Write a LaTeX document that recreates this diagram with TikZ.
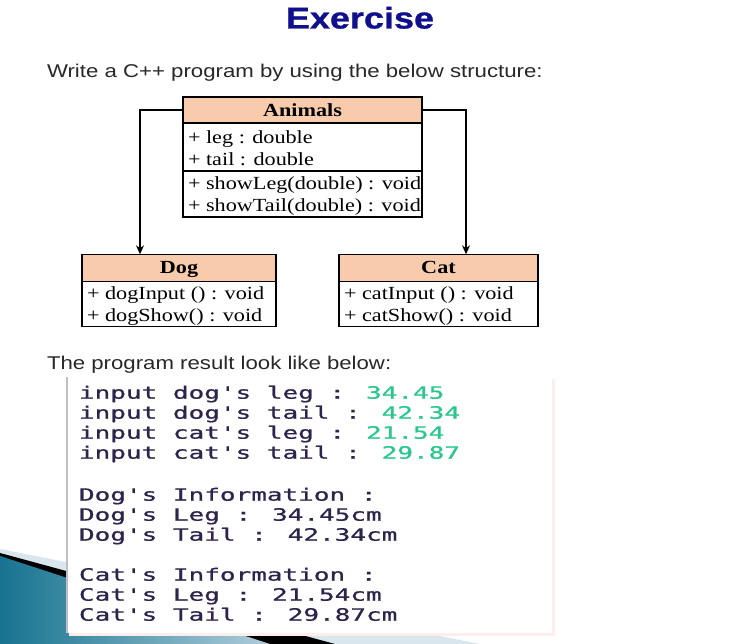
\documentclass[tikz,border=0pt]{standalone}
\usepackage{fontspec}
\setmainfont{Liberation Serif}
\newfontfamily\slidefont{Liberation Sans}
\newfontfamily\titlefont[FakeBold=0.8]{Liberation Sans Bold}
\newfontfamily\consolefont[FakeBold=0.7]{DejaVu Sans Mono}
\usepackage{graphicx}
\usetikzlibrary{arrows.meta}

\definecolor{titleblue}{RGB}{16,16,140}
\definecolor{umlheadfill}{RGB}{248,203,173}
\definecolor{slidetext}{RGB}{40,40,40}
\definecolor{contxt}{RGB}{45,35,75}
\definecolor{conval}{RGB}{40,200,140}
\definecolor{tealdark}{RGB}{22,115,145}
\definecolor{teallight}{RGB}{175,205,218}
\definecolor{swoosh}{RGB}{218,230,238}
\definecolor{conshadow}{RGB}{252,238,234}
\definecolor{conedge}{RGB}{190,190,198}

% wide-set text, as on the slide
\newcommand\hstretch[1]{\scalebox{1.2}[1]{#1}}
\newcommand\monostretch[1]{\scalebox{1.53}[1]{#1}}
\newcommand\q{\textquotesingle}

\begin{document}
\begin{tikzpicture}[x=1pt,y=-1pt,
  every node/.style={inner sep=0pt, outer sep=0pt},
  umlpart/.style={draw=black, line width=1.3pt, anchor=north, minimum height=#1},
  umlhead/.style={umlpart=#1, fill=umlheadfill},
  umlrow/.style={anchor=base west, font=\fontsize{18.5}{20}\selectfont},
  umltitle/.style={anchor=base, font=\fontsize{18.5}{20}\selectfont\bfseries},
  inherit/.style={-{Stealth[length=9pt,width=8pt]}, line width=1.3pt},
  slideline/.style={anchor=base west, font=\fontsize{18.5}{20}\slidefont, text=slidetext},
  conline/.style={anchor=base west, font=\fontsize{17}{20}\consolefont, text=contxt},
]
\useasboundingbox (0,0) rectangle (741,644);
\fill[white] (0,0) rectangle (741,644);

% slide decoration, bottom left
\fill[swoosh] (0,549) -- (480,644) -- (0,644) -- cycle;
\fill[black] (0,553) -- (335,644) -- (0,644) -- cycle;
\shade[left color=tealdark, right color=teallight] (0,556) -- (270,644) -- (0,644) -- cycle;

% heading and captions
\node[anchor=base, font=\fontsize{30}{30}\titlefont, text=titleblue] (title) at (360,28.5) {\hstretch{Exercise}};
\node[slideline] (intro) at (47,77.7) {\hstretch{Write a C++ program by using the below structure:}};
\node[slideline] (result) at (47,369.3) {\hstretch{The program result look like below:}};

% class Animals
\node[umlhead=26pt, minimum width=239pt] (animalsHead) at (302.5,97) {};
\node[umlpart=48pt, minimum width=239pt] (animalsAttr) at (animalsHead.south) {};
\node[umlpart=46pt, minimum width=239pt] (animalsOps) at (animalsAttr.south) {};
\node[umltitle] (animalsName) at (302.5,116.7) {\hstretch{Animals}};
\node[umlrow] (legAttr) at (188,143.3) {\hstretch{+ leg : double}};
\node[umlrow] (tailAttr) at (188,165.3) {\hstretch{+ tail : double}};
\node[umlrow] (showLegOp) at (188,190) {\hstretch{+ showLeg(double) : void}};
\node[umlrow] (showTailOp) at (188,212) {\hstretch{+ showTail(double) : void}};

% class Dog
\node[umlhead=27pt, minimum width=194pt] (dogHead) at (179,254.3) {};
\node[umlpart=45pt, minimum width=194pt] (dogOps) at (dogHead.south) {};
\node[umltitle] (dogName) at (179,273.3) {\hstretch{Dog}};
\node[umlrow] (dogInputOp) at (87,299.3) {\hstretch{+ dogInput () : void}};
\node[umlrow] (dogShowOp) at (87,321.5) {\hstretch{+ dogShow() : void}};

% class Cat
\node[umlhead=27pt, minimum width=199pt] (catHead) at (438.5,254.3) {};
\node[umlpart=45pt, minimum width=199pt] (catOps) at (catHead.south) {};
\node[umltitle] (catName) at (438.5,273.3) {\hstretch{Cat}};
\node[umlrow] (catInputOp) at (344,299.3) {\hstretch{+ catInput () : void}};
\node[umlrow] (catShowOp) at (344,321.5) {\hstretch{+ catShow() : void}};

% inheritance connectors
\draw[inherit] (animalsHead.west) -| ([xshift=-39pt]dogHead.north);
\draw[inherit] (animalsHead.east) -| ([xshift=27.5pt]catHead.north);

% console output window
\fill[conshadow] (69,379) rectangle (554.5,636);
\node[fill=white, anchor=north west, minimum width=485pt, minimum height=256pt] (console) at (67,377) {};
\draw[conedge, line width=1.3pt] (console.north west) -- (console.south west);

\node[conline] (in1) at (79,398.7) {\monostretch{input dog\q s leg : \textcolor{conval}{34.45}}};
\node[conline] (in2) at (79,418.7) {\monostretch{input dog\q s tail : \textcolor{conval}{42.34}}};
\node[conline] (in3) at (79,438.7) {\monostretch{input cat\q s leg : \textcolor{conval}{21.54}}};
\node[conline] (in4) at (79,458.7) {\monostretch{input cat\q s tail : \textcolor{conval}{29.87}}};

\node[conline] (dogInfo) at (79,500.7) {\monostretch{Dog\q s Information :}};
\node[conline] (dogLeg) at (79,520.7) {\monostretch{Dog\q s Leg : 34.45cm}};
\node[conline] (dogTail) at (79,540.7) {\monostretch{Dog\q s Tail : 42.34cm}};

\node[conline] (catInfo) at (79,580.7) {\monostretch{Cat\q s Information :}};
\node[conline] (catLeg) at (79,600.7) {\monostretch{Cat\q s Leg : 21.54cm}};
\node[conline] (catTail) at (79,620.7) {\monostretch{Cat\q s Tail : 29.87cm}};
\end{tikzpicture}
\end{document}
